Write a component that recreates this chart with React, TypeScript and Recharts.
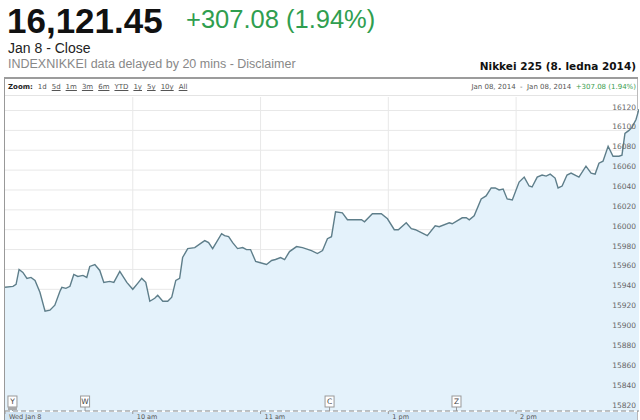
import React from 'react';
import {
  ComposedChart,
  Area,
  XAxis,
  YAxis,
  CartesianGrid,
  ReferenceDot,
} from 'recharts';

// minutes since 9:00 open (lunch break squeezed out), index level
const minutes = [
  0, 3.75, 5.2, 6.6, 8.4, 10.3, 12.2, 14.1, 16.4, 18.8, 21.1, 23.4, 25.8, 26.7, 28.6, 30.5,
  32.3, 34.2, 36.6, 38.4, 39.8, 42.2, 44.5, 46.4, 49.2, 51.1, 53.9, 57.2, 60, 62.3, 64.2, 66.1,
  68, 70.3, 71.7, 74.1, 76.4, 78.3, 80.2, 82, 83.4, 85.8, 89.1, 92.4, 93.8, 95.6, 97.5, 101.7,
  103.1, 105, 106.9, 109.2, 111.6, 113.4, 115.3, 117.7, 119.5, 122.8, 125.2, 127, 129.4, 131.3,
  133.6, 136.9, 139.7, 143.9, 146.7, 149.1, 151.4, 153.3, 155.2, 158.4, 160.8, 165.5, 167.4,
  168.8, 172.5, 176.7, 179.6, 182.8, 184.7, 188.4, 190.8, 192.7, 195.5, 198.3, 202, 203.9,
  208.6, 210, 214.7, 216.6, 218, 220.3, 223.6, 225.9, 228.3, 230.2, 232, 233.9, 235.8, 238.2,
  241.4, 243.8, 246.1, 247.5, 249.9, 252.2, 254.1, 256, 258.3, 259.7, 261.6, 263.9, 265.8,
  269.5, 272.8, 275.2, 277.1, 278.9, 280.8, 283.2, 285.5, 288.3, 289.7, 291.1, 293, 294.4,
  296.3, 297.7,
];

const levels = [
  15942, 15943, 15945, 15960, 15957, 15951, 15952, 15949, 15937, 15918, 15919, 15924, 15938,
  15942, 15941, 15943, 15955, 15953, 15954, 15952, 15963, 15965, 15959, 15947, 15948, 15947,
  15958, 15947, 15940, 15946, 15951, 15947, 15928, 15931, 15934, 15928, 15928, 15932, 15949,
  15951, 15972, 15981, 15982, 15987, 15989, 15987, 15981, 15996, 15994, 15993, 15987, 15981,
  15982, 15980, 15980, 15968, 15967, 15965, 15969, 15970, 15972, 15970, 15978, 15983, 15982,
  15979, 15976, 15979, 15991, 15993, 16018, 16017, 16010, 16010, 16010, 16008, 16016, 16016,
  16011, 16000, 16000, 16007, 16001, 16000, 15997, 15994, 16004, 16003, 16007, 16006, 16012,
  16012, 16010, 16014, 16031, 16034, 16042, 16042, 16040, 16041, 16031, 16030, 16048, 16053,
  16044, 16043, 16053, 16055, 16054, 16056, 16052, 16042, 16044, 16055, 16057, 16053, 16064,
  16057, 16056, 16067, 16069, 16084, 16074, 16074, 16075, 16097, 16100, 16103, 16111, 16121.45,
];

const yTicks = [
  15820, 15840, 15860, 15880, 15900, 15920, 15940, 15960, 15980, 16000, 16020, 16040, 16060,
  16080, 16100, 16120,
];

const xTicks = [0, 60, 120, 180, 240];
const xTickLabels = ['Wed Jan 8', '10 am', '11 am', '1 pm', '2 pm'];

const flagLetters = ['Y', 'W', 'C', 'Z'];
const flagMinutes = [3.5, 37.6, 152.4, 212];

const zoomLinks = ['1d', '5d', '1m', '3m', '6m', 'YTD', '1y', '5y', '10y', 'All'];

const data = minutes.map((t, i) => ({ t, value: levels[i] }));

const small = { fontFamily: '"DejaVu Sans", Verdana, sans-serif', fontSize: 7 };

const YTick = ({ x, y, payload }: any) => (
  <text x={x} y={y - 3} textAnchor="end" dominantBaseline="middle" fontSize={7.5} fill="#666"
    fontFamily='"DejaVu Sans", Verdana, sans-serif'>
    {payload.value}
  </text>
);

const XTick = ({ x, payload, index }: any) => (
  <text x={x + 4} y={418.5 - 79} fontSize={6.5} fill="#555"
    fontFamily='"DejaVu Sans", Verdana, sans-serif'>
    {xTickLabels[xTicks.indexOf(payload.value)] ?? xTickLabels[index]}
  </text>
);

const Flag = ({ cx, cy, letter, first }: any) => (
  <g>
    <line x1={cx} x2={cx} y1={cy - 4} y2={cy} stroke="#999" />
    <rect x={cx - 4.5} y={cy - 15} width={9} height={11} fill="#fff" stroke="#999" />
    <text x={cx} y={cy - 9.5} textAnchor="middle" dominantBaseline="middle" fontSize={7.5}
      fill="#444" fontFamily='"DejaVu Sans", Verdana, sans-serif'>
      {letter}
    </text>
    {first && <rect x={cx - 4.5} y={cy - 4} width={9} height={3} fill="#aaa" />}
  </g>
);

export default function App() {
  return (
    <div style={{ position: 'relative', width: 640, height: 420, overflow: 'hidden', background: '#fff', fontFamily: 'Arial, "Liberation Sans", sans-serif' }}>
      <style>{'body{margin:0}'}</style>

      <div style={{ position: 'absolute', left: 7, top: 4, fontSize: 35, fontWeight: 'bold', color: '#111', lineHeight: '34px' }}>
        16,121.45
      </div>
      <div style={{ position: 'absolute', left: 186, top: 5, fontSize: 25.5, color: '#2f9e4f', lineHeight: '28px' }}>
        +307.08 (1.94%)
      </div>
      <div style={{ position: 'absolute', left: 8, top: 41, fontSize: 14, color: '#222', lineHeight: '15px' }}>
        Jan 8 - Close
      </div>
      <div style={{ position: 'absolute', left: 8, top: 57, fontSize: 12.5, color: '#888', lineHeight: '14px' }}>
        INDEXNIKKEI data delayed by 20 mins - Disclaimer
      </div>
      <div style={{ position: 'absolute', right: 4, top: 59, fontSize: 10.5, fontWeight: 'bold', color: '#111', lineHeight: '14px', fontFamily: '"DejaVu Sans", Verdana, sans-serif' }}>
        Nikkei 225 (8. ledna 2014)
      </div>

      <div style={{ position: 'absolute', left: 4, top: 77, width: 634, height: 2, background: '#9c9c9c' }} />
      <div style={{ position: 'absolute', left: 4, top: 79, width: 1, height: 341, background: '#999' }} />
      <div style={{ position: 'absolute', left: 637, top: 79, width: 1, height: 341, background: '#bbb' }} />
      <div style={{ position: 'absolute', left: 5, top: 95, width: 632, height: 1, background: '#e4e4e4' }} />

      <div style={{ ...small, position: 'absolute', left: 8, top: 82, lineHeight: '10px', color: '#555', whiteSpace: 'nowrap' }}>
        <b style={{ color: '#222' }}>Zoom:</b>
        {zoomLinks.map((z, i) => (
          <span key={z} style={{ marginLeft: 5, textDecoration: i === 0 ? 'none' : 'underline' }}>{z}</span>
        ))}
      </div>
      <div style={{ ...small, position: 'absolute', right: 4, top: 82, lineHeight: '10px', color: '#555', whiteSpace: 'nowrap' }}>
        Jan 08, 2014&nbsp; - &nbsp;Jan 08, 2014&nbsp; <span style={{ color: '#3a9d4f' }}>+307.08 (1.94%)</span>
      </div>

      <div style={{ position: 'absolute', left: 5, top: 412, width: 632, height: 8, background: '#d2e5f4' }} />

      <div style={{ position: 'absolute', left: 0, top: 79 }}>
        <ComposedChart width={640} height={341} data={data} margin={{ top: 18, right: 1, left: 5, bottom: 0 }}>
          <CartesianGrid stroke="#e8e8e8" horizontalValues={yTicks} verticalValues={xTicks.slice(1)} />
          <XAxis
            dataKey="t"
            type="number"
            domain={[0, 297.7]}
            ticks={xTicks}
            tick={<XTick />}
            height={9}
            tickSize={3}
            tickMargin={1}
            tickLine={{ stroke: '#999' }}
            axisLine={{ stroke: '#888', strokeDasharray: '5 3' }}
            interval={0}
            allowDataOverflow
          />
          <YAxis
            orientation="right"
            mirror
            width={1}
            domain={[15817.5, 16133.6]}
            ticks={yTicks}
            tick={<YTick />}
            tickLine={false}
            axisLine={false}
            tickSize={0}
            tickMargin={3}
            interval={0}
            allowDataOverflow
          />
          <Area
            type="linear"
            dataKey="value"
            stroke="#5e7e8a"
            strokeWidth={1.4}
            fill="#e4f2fb"
            fillOpacity={1}
            baseValue={15817.5}
            dot={false}
            activeDot={false}
            isAnimationActive={false}
          />
          {flagLetters.map((f, i) => (
            <ReferenceDot
              key={f}
              x={flagMinutes[i]}
              y={15817.5}
              r={0}
              ifOverflow="visible"
              shape={(p: any) => <Flag {...p} letter={f} first={i === 0} />}
            />
          ))}
        </ComposedChart>
      </div>
    </div>
  );
}
